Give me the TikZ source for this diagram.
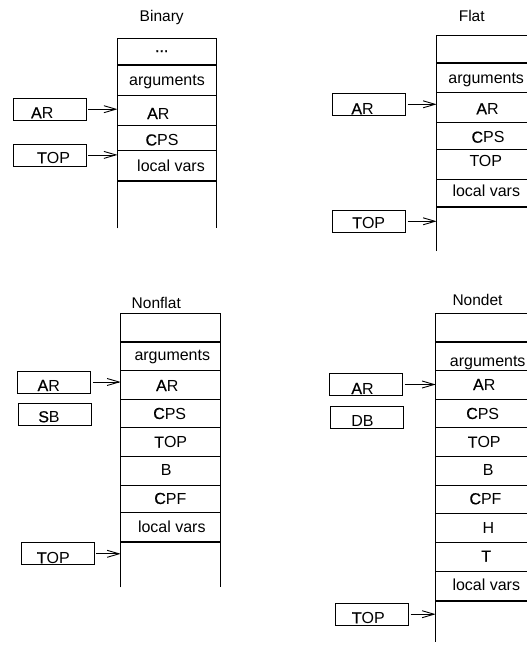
\documentclass[tikz,border=0pt]{standalone}
\usepackage{fontspec}
\setmainfont{Liberation Sans}
\newfontfamily\embfont[FakeBold=0.6]{Liberation Sans}
\newcommand\fb[1]{{\embfont #1}}
\usetikzlibrary{arrows.meta}
\begin{document}
\begin{tikzpicture}[x=1pt,y=-1pt,
  line width=0.8pt,
  thickrule/.style={line width=2pt},
  lbl/.style={anchor=base,inner sep=0pt,font=\fontsize{16}{19}\selectfont},
  ttl/.style={anchor=base,inner sep=0pt,font=\fontsize{15.5}{18}\selectfont},
  regbox/.style={draw,line width=0.8pt,minimum width=73pt,minimum height=22pt,inner sep=0pt},
  ptr/.style={-{Straight Barb[length=12pt,width=7pt,line width=0.9pt]},line width=0.8pt,shorten <=2pt}
]
\useasboundingbox (0,0) rectangle (527,648);
\clip (0,0) rectangle (527,648);

% ---------------- Binary ----------------
\coordinate (binTL) at (117.5,38.3);
\coordinate (binTR) at (216.5,38.3);
\draw (117.5,228.3) -- (binTL) -- (binTR) -- (216.5,228.3);
\foreach \yy in {65,180.7} \draw[thickrule] (117.5,\yy) -- +(99,0);
\foreach \yy in {95,125,150.7} \draw (117.5,\yy) -- +(99,0);
\node[ttl] (binTitle) at (161.7,21) {Binary};
\node[lbl] (binDots) at (161.7,52) {\fb{...}};
\node[lbl] (binArgs) at (167,85.5) {arguments};
\node[lbl] (binARrow) at (158.3,119) {\fb{A}R};
\node[lbl] (binCPS) at (162,145.5) {\fb{C}PS};
\node[lbl] (binLoc) at (171,171.5) {local vars};
\node[regbox] (binARbox) at (49.5,109.2) {};
\node[lbl] (binARtxt) at (42.2,118.3) {\fb{A}R};
\node[regbox] (binTOPbox) at (49.5,154.9) {};
\node[lbl] (binTOPtxt) at (53.5,163.3) {\fb{T}OP};
\draw[ptr] (binARbox.east) -- (binARbox.east -| binTL);
\draw[ptr] (binTOPbox.east) -- (binTOPbox.east -| binTL);

% ---------------- Flat ----------------
\coordinate (flaTL) at (436.7,35);
\coordinate (flaTR) at (535.7,35);
\draw (436.7,251) -- (flaTL) -- (flaTR) -- (535.7,251);
\foreach \yy in {63.3,207.3} \draw[thickrule] (436.7,\yy) -- +(99,0);
\foreach \yy in {92.7,122.3,149.3,179.3} \draw (436.7,\yy) -- +(99,0);
\node[ttl] (flaTitle) at (471.7,21) {Flat};
\node[lbl] (flaArgs) at (486.2,83.3) {arguments};
\node[lbl] (flaARrow) at (487.5,114.3) {\fb{A}R};
\node[lbl] (flaCPS) at (488,142.7) {\fb{C}PS};
\node[lbl] (flaTOProw) at (485.8,166.7) {TOP};
\node[lbl] (flaLoc) at (486.3,196.7) {local vars};
\node[regbox] (flaARbox) at (368.7,104.3) {};
\node[lbl] (flaARtxt) at (362.5,114.3) {\fb{A}R};
\node[regbox] (flaTOPbox) at (368.7,221.3) {};
\node[lbl] (flaTOPtxt) at (368.7,228.3) {\fb{T}OP};
\draw[ptr] (flaARbox.east) -- (flaARbox.east -| flaTL);
\draw[ptr] (flaTOPbox.east) -- (flaTOPbox.east -| flaTL);

% ---------------- Nonflat ----------------
\coordinate (nfTL) at (120.7,313.3);
\coordinate (nfTR) at (220,313.3);
\draw (120.7,587.3) -- (nfTL) -- (nfTR) -- (220,587.3);
\foreach \yy in {341.7,542.3} \draw[thickrule] (120.7,\yy) -- +(99.3,0);
\foreach \yy in {370.7,399,427.3,456.7,485,512.7} \draw (120.7,\yy) -- +(99.3,0);
\node[ttl] (nfTitle) at (156.3,308.3) {Nonflat};
\node[lbl] (nfArgs) at (172.3,360) {arguments};
\node[lbl] (nfARrow) at (167.2,391) {\fb{A}R};
\node[lbl] (nfCPS) at (169.7,419) {\fb{C}PS};
\node[lbl] (nfTOProw) at (170.7,447.7) {\fb{T}OP};
\node[lbl] (nfB) at (166.3,475.7) {B};
\node[lbl] (nfCPF) at (170.3,504) {\fb{C}PF};
\node[lbl] (nfLoc) at (171.8,532.3) {local vars};
\node[regbox] (nfARbox) at (54,382) {};
\node[lbl] (nfARtxt) at (48.7,391) {\fb{A}R};
\node[regbox] (nfSBbox) at (55,414.8) {};
\node[lbl] (nfSBtxt) at (49,422.3) {\fb{S}B};
\node[regbox] (nfTOPbox) at (57.5,553.8) {};
\node[lbl] (nfTOPtxt) at (53.3,563.3) {\fb{T}OP};
\draw[ptr] (nfARbox.east) -- (nfARbox.east -| nfTL);
\draw[ptr] (nfTOPbox.east) -- (nfTOPbox.east -| nfTL);

% ---------------- Nondet ----------------
\coordinate (ndTL) at (435.7,313.3);
\coordinate (ndTR) at (534.7,313.3);
\draw (435.7,641.7) -- (ndTL) -- (ndTR) -- (534.7,641.7);
\foreach \yy in {341.7,600.7} \draw[thickrule] (435.7,\yy) -- +(99,0);
\foreach \yy in {370.7,399,427.3,456.7,485,513.3,542.3,571.7} \draw (435.7,\yy) -- +(99,0);
\node[ttl] (ndTitle) at (477.5,305) {Nondet};
\node[lbl] (ndArgs) at (487.7,366.7) {arguments};
\node[lbl] (ndARrow) at (484.2,390) {\fb{A}R};
\node[lbl] (ndCPS) at (482.7,419) {\fb{C}PS};
\node[lbl] (ndTOProw) at (484.2,447.7) {\fb{T}OP};
\node[lbl] (ndB) at (488.3,475.7) {B};
\node[lbl] (ndCPF) at (485.5,504.3) {\fb{C}PF};
\node[lbl] (ndH) at (488.3,533.3) {H};
\node[lbl] (ndT) at (486.2,561.7) {\fb{T}};
\node[lbl] (ndLoc) at (486.3,590.7) {local vars};
\node[regbox] (ndARbox) at (365.8,384.5) {};
\node[lbl] (ndARtxt) at (362.5,394) {\fb{A}R};
\node[regbox] (ndDBbox) at (367,417.2) {};
\node[lbl] (ndDBtxt) at (362.5,426.7) {DB};
\node[regbox] (ndTOPbox) at (371.7,614.2) {};
\node[lbl] (ndTOPtxt) at (368.3,623.3) {\fb{T}OP};
\draw[ptr] (ndARbox.east) -- (ndARbox.east -| ndTL);
\draw[ptr] (ndTOPbox.east) -- (ndTOPbox.east -| ndTL);
\end{tikzpicture}
\end{document}
